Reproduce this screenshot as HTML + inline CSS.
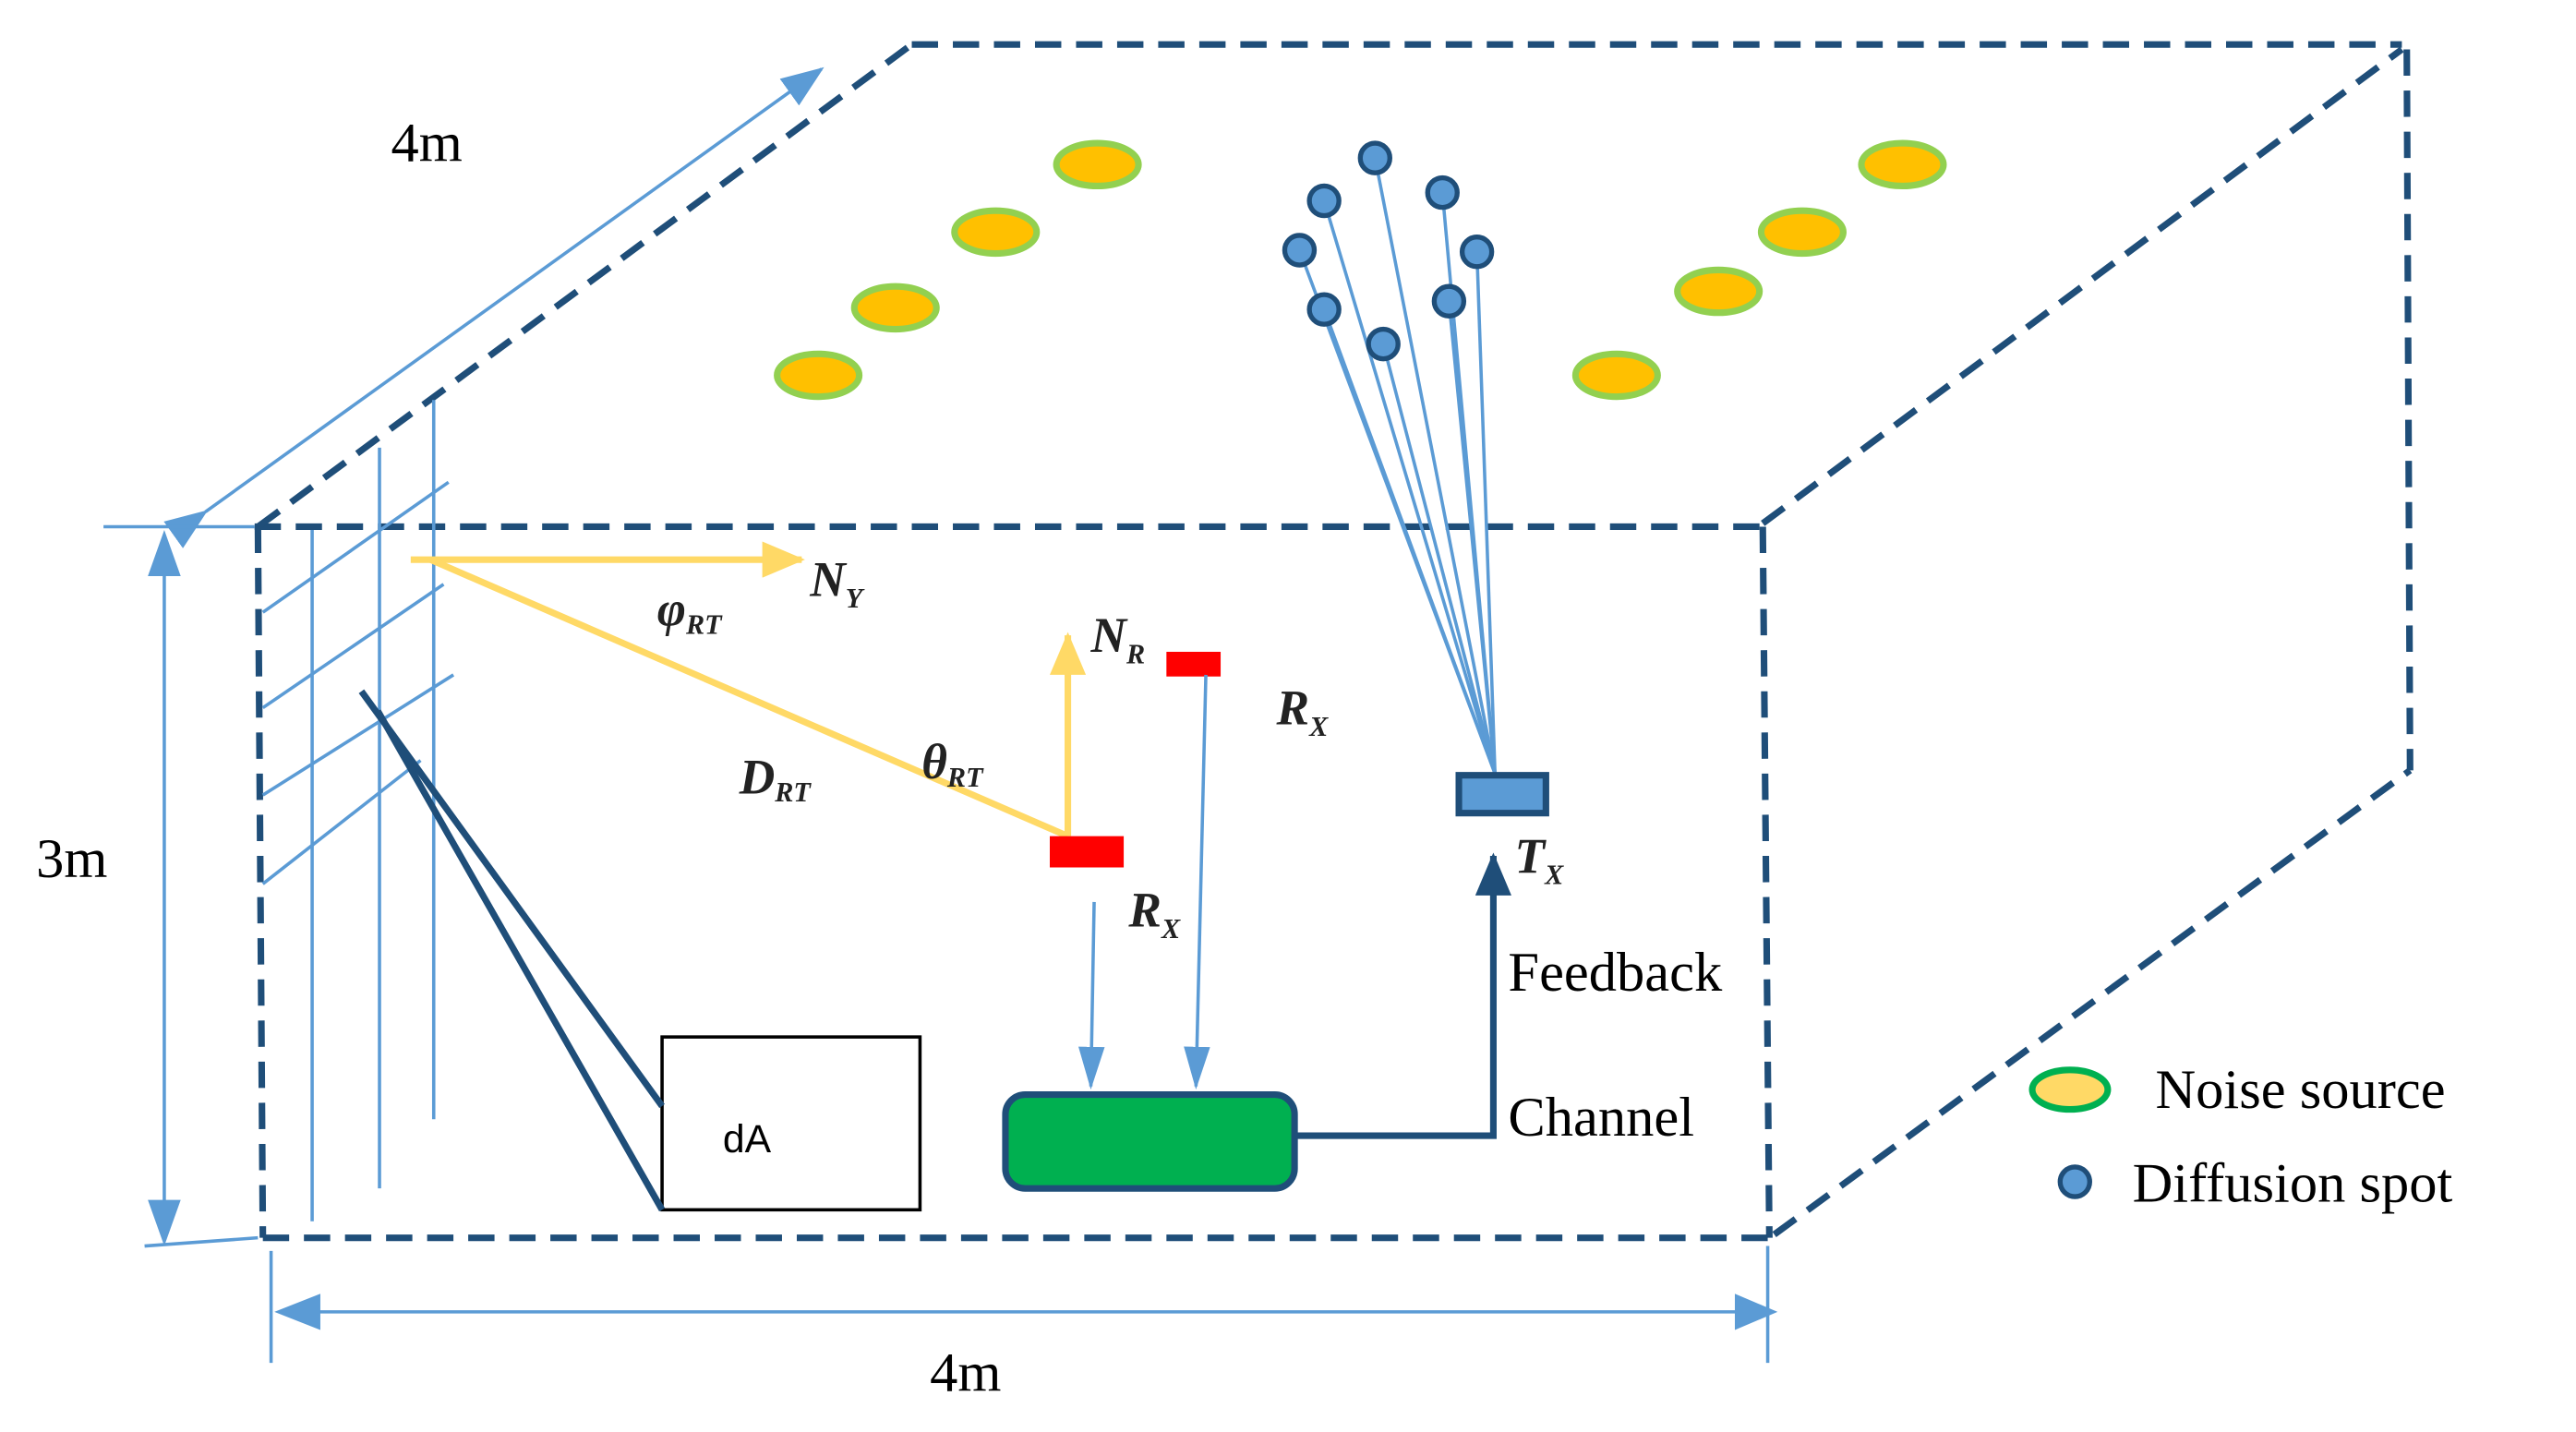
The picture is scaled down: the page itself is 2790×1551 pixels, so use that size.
<!DOCTYPE html>
<html><head><meta charset="utf-8"><style>html,body{margin:0;padding:0;background:#fff}svg{display:block}</style></head>
<body>
<svg width="2790" height="1551" viewBox="0 0 1568 870" preserveAspectRatio="none" xmlns="http://www.w3.org/2000/svg">
<defs>
<marker id="abl" markerWidth="26" markerHeight="20" refX="24" refY="10" orient="auto" markerUnits="userSpaceOnUse"><path d="M0,0 L26,10 L0,20 z" fill="#5b9bd5"/></marker>
<marker id="ay" markerWidth="26" markerHeight="22" refX="24" refY="11" orient="auto" markerUnits="userSpaceOnUse"><path d="M0,0 L26,11 L0,22 z" fill="#ffd966"/></marker>
<marker id="ad" markerWidth="26" markerHeight="22" refX="24" refY="11" orient="auto" markerUnits="userSpaceOnUse"><path d="M0,0 L26,11 L0,22 z" fill="#1f4e79"/></marker>
<marker id="am" markerWidth="26" markerHeight="16" refX="24" refY="8" orient="auto" markerUnits="userSpaceOnUse"><path d="M0,0 L26,8 L0,16 z" fill="#5b9bd5"/></marker>
</defs>
<g stroke="#1f4e79" stroke-width="4" stroke-dasharray="16,9" fill="none">
<line x1="155" y1="320" x2="1073" y2="320"/>
<line x1="160" y1="752" x2="1077" y2="752"/>
<line x1="157" y1="320" x2="160" y2="752"/>
<line x1="1073" y1="320" x2="1077" y2="752"/>
<line x1="157" y1="320" x2="555" y2="27"/>
<line x1="555" y1="27" x2="1462" y2="27"/>
<line x1="1073" y1="318" x2="1462" y2="30"/>
<line x1="1465" y1="30" x2="1467" y2="468"/>
<line x1="1080" y1="750" x2="1467" y2="468"/>
</g>
<g stroke="#5b9bd5" stroke-width="2" fill="none">
<line x1="125" y1="311" x2="500" y2="42" marker-end="url(#abl)" marker-start="url(#abl)" />
<line x1="63" y1="320" x2="155" y2="320"/>
<line x1="88" y1="757" x2="157" y2="752"/>
<line x1="100" y1="340" x2="100" y2="740"/>
<line x1="165" y1="760" x2="165" y2="828"/>
<line x1="1076" y1="757" x2="1076" y2="828"/>
<line x1="190" y1="797" x2="1060" y2="797"/>
<line x1="190" y1="322" x2="190" y2="742"/>
<line x1="231" y1="272" x2="231" y2="722"/>
<line x1="264" y1="243" x2="264" y2="680"/>
<line x1="160" y1="372" x2="273" y2="293"/>
<line x1="160" y1="430" x2="270" y2="355"/>
<line x1="160" y1="483" x2="276" y2="410"/>
<line x1="160" y1="537" x2="256" y2="462"/>
</g>
<path d="M100,322 L90,350 L110,350 z M100,757 L90,729 L110,729 z" fill="#5b9bd5"/>
<path d="M167,797 L195,786 L195,808 z M1082,797 L1056,786 L1056,808 z" fill="#5b9bd5"/>
<g fill="#ffc000" stroke="#92d050" stroke-width="4">
<ellipse cx="498" cy="228" rx="25" ry="13"/><ellipse cx="545" cy="187" rx="25" ry="13"/>
<ellipse cx="606" cy="141" rx="25" ry="13"/><ellipse cx="668" cy="100" rx="25" ry="13"/>
<ellipse cx="984" cy="228" rx="25" ry="13"/><ellipse cx="1046" cy="177" rx="25" ry="13"/>
<ellipse cx="1097" cy="141" rx="25" ry="13"/><ellipse cx="1158" cy="100" rx="25" ry="13"/>
</g>
<g stroke="#5b9bd5" stroke-width="2">
<line x1="837" y1="96" x2="910" y2="470"/><line x1="806" y1="122" x2="910" y2="470"/>
<line x1="878" y1="117" x2="910" y2="470"/><line x1="791" y1="152" x2="910" y2="470"/>
<line x1="899" y1="153" x2="910" y2="470"/><line x1="806" y1="188" x2="910" y2="470"/>
<line x1="882" y1="183" x2="910" y2="470"/><line x1="842" y1="209" x2="910" y2="470"/>
</g>
<g fill="#5b9bd5" stroke="#1f4e79" stroke-width="3">
<ellipse cx="837" cy="96" rx="9" ry="9"/><ellipse cx="806" cy="122" rx="9" ry="9"/>
<ellipse cx="878" cy="117" rx="9" ry="9"/><ellipse cx="791" cy="152" rx="9" ry="9"/>
<ellipse cx="899" cy="153" rx="9" ry="9"/><ellipse cx="806" cy="188" rx="9" ry="9"/>
<ellipse cx="882" cy="183" rx="9" ry="9"/><ellipse cx="842" cy="209" rx="9" ry="9"/>
</g>
<rect x="888" y="471" width="53" height="23" fill="#5b9bd5" stroke="#1f4e79" stroke-width="4"/>
<g stroke="#ffd966" stroke-width="4" fill="none">
<line x1="250" y1="340" x2="488" y2="340" marker-end="url(#ay)"/>
<line x1="262" y1="340" x2="650" y2="508"/>
<line x1="650" y1="508" x2="650" y2="386" marker-end="url(#ay)"/>
</g>
<rect x="639" y="508" width="45" height="19" fill="#ff0000"/>
<rect x="710" y="396" width="33" height="15" fill="#ff0000"/>
<g stroke="#5b9bd5" stroke-width="2" fill="none">
<line x1="666" y1="548" x2="664" y2="660" marker-end="url(#am)"/>
<line x1="734" y1="410" x2="728" y2="660" marker-end="url(#am)"/>
</g>
<rect x="612" y="665" width="176" height="57" rx="12" fill="#00b050" stroke="#1f4e79" stroke-width="4"/>
<polyline points="788,690 909,690 909,520" fill="none" stroke="#1f4e79" stroke-width="4" marker-end="url(#ad)"/>
<rect x="403" y="630" width="157" height="105" fill="#fff" stroke="#000" stroke-width="2"/>
<g stroke="#1f4e79" stroke-width="4">
<line x1="220" y1="420" x2="403" y2="672"/>
<line x1="230" y1="432" x2="403" y2="735"/>
</g>
<g font-family="Liberation Serif, serif" font-size="34" fill="#000">
<text x="238" y="98">4m</text>
<text x="22" y="533">3m</text>
<text x="566" y="845">4m</text>
<text x="918" y="602">Feedback</text>
<text x="918" y="690">Channel</text>
<text x="1312" y="673">Noise source</text>
<text x="1298" y="730">Diffusion spot</text>
</g>
<text x="440" y="700" font-family="Liberation Sans, sans-serif" font-size="24">dA</text>
<g font-family="Liberation Serif, serif" font-size="30" font-style="italic" font-weight="bold" fill="#222">
<text x="493" y="362">N<tspan font-size="17" dy="7">Y</tspan></text>
<text x="400" y="380">φ<tspan font-size="17" dy="5">RT</tspan></text>
<text x="664" y="396">N<tspan font-size="17" dy="7">R</tspan></text>
<text x="777" y="440">R<tspan font-size="17" dy="7">X</tspan></text>
<text x="450" y="482">D<tspan font-size="17" dy="5">RT</tspan></text>
<text x="561" y="473">θ<tspan font-size="17" dy="5">RT</tspan></text>
<text x="687" y="563">R<tspan font-size="17" dy="7">X</tspan></text>
<text x="922" y="530">T<tspan font-size="17" dy="7">X</tspan></text>
</g>
<ellipse cx="1260" cy="662" rx="23" ry="12" fill="#ffd966" stroke="#00b050" stroke-width="4"/>
<ellipse cx="1263" cy="718" rx="9" ry="9" fill="#5b9bd5" stroke="#1f4e79" stroke-width="3"/>
</svg>
</body></html>
